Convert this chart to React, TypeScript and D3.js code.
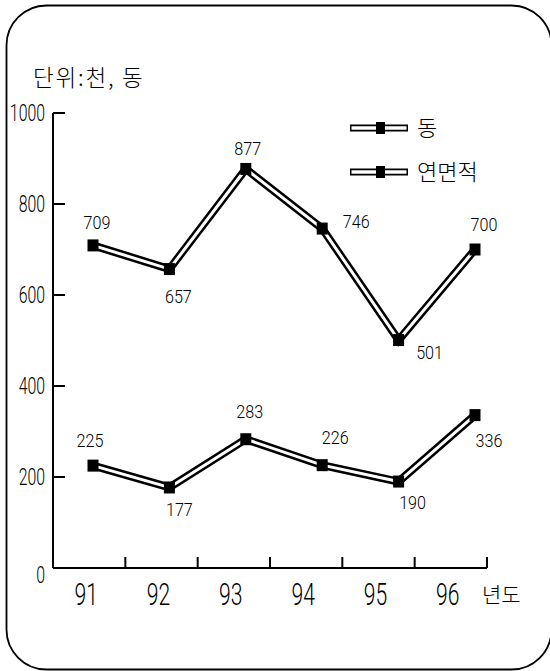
import React from "react";
import * as d3 from "d3";

const years = ["91", "92", "93", "94", "95", "96"];
const areaValues = [709, 657, 877, 746, 501, 700]; // 연면적
const countValues = [225, 177, 283, 226, 190, 336]; // 동
const yTicks = [0, 200, 400, 600, 800, 1000];
const seriesNames = ["동", "연면적"];
const unitLabel = "단위:천, 동";
const xAxisTitle = "년도";

// label offsets relative to each point (dx, dy of label centre)
const areaLabelOffsets = [[4, -23], [9, 27], [2, -21], [34, -8], [31, 12], [9, -26]];
const countLabelOffsets = [[-3, -26], [10, 22], [4, -28], [13, -28], [14, 20], [14, 25]];

const W = 550;
const H = 671;
const KR = "'Noto Sans CJK KR', 'Noto Sans', sans-serif";
const NUM = "Roboto, 'Liberation Sans', Arial, sans-serif";

export default function App() {
  const yScale = d3.scaleLinear().domain([0, 1000]).range([568, 113]);
  const xBand = d3.scaleBand().domain(years).range([53, 487]);
  const xPoint = d3.scalePoint().domain(years).range([93, 475]);

  const line = d3
    .line<number>()
    .x((_, i) => xPoint(years[i]) as number)
    .y((d) => yScale(d));

  const series = [
    { name: seriesNames[1], values: areaValues, offsets: areaLabelOffsets },
    { name: seriesNames[0], values: countValues, offsets: countLabelOffsets },
  ];

  const axisLeft = xBand.range()[0];
  const axisRight = xBand.range()[1];
  const axisBottom = yScale(0);
  const axisTop = yScale(1000);

  return (
    <svg
      width={W}
      height={H}
      viewBox={`0 0 ${W} ${H}`}
      style={{ position: "fixed", left: 0, top: 0, background: "#fff" }}
    >
      <rect x={0} y={0} width={W} height={H} fill="#fff" />
      {/* frame */}
      <rect x={6.5} y={5.5} width={545} height={664} rx={40} ry={40} fill="none" stroke="#000" strokeWidth={1.8} />

      {/* unit label */}
      <text x={33} y={86} fontFamily={KR} fontWeight={300} fontSize={22.5} letterSpacing={1.8} fill="#000">
        {unitLabel}
      </text>

      {/* y axis */}
      <line x1={axisLeft} x2={axisLeft} y1={axisTop} y2={axisBottom} stroke="#000" strokeWidth={2} />
      {yTicks.map((t) => (
        <g key={t}>
          {t > 0 && (
            <line x1={axisLeft} x2={axisLeft + 12} y1={yScale(t)} y2={yScale(t)} stroke="#000" strokeWidth={2} />
          )}
          <text
            transform={`translate(${45},${yScale(t) + (t === 0 ? 15 : 8)}) scale(0.66,1)`}
            textAnchor="end"
            fontFamily={NUM}
            fontWeight={300}
            fontSize={24}
            fill="#000"
          >
            {t}
          </text>
        </g>
      ))}

      {/* x axis */}
      <line x1={axisLeft} x2={axisRight} y1={axisBottom} y2={axisBottom} stroke="#000" strokeWidth={2} />
      {years.map((yr) => {
        const bx = (xBand(yr) as number) + xBand.bandwidth();
        const cx = (xBand(yr) as number) + xBand.bandwidth() / 2 - 3;
        return (
          <g key={yr}>
            <line x1={bx} x2={bx} y1={axisBottom} y2={axisBottom - 11} stroke="#000" strokeWidth={2} />
            <text
              transform={`translate(${cx},${605}) scale(0.66,1)`}
              textAnchor="middle"
              fontFamily={NUM}
              fontWeight={300}
              fontSize={32}
              fill="#000"
            >
              {yr}
            </text>
          </g>
        );
      })}
      <text x={482} y={602} fontFamily={KR} fontWeight={300} fontSize={21} fill="#000">
        {xAxisTitle}
      </text>

      {/* series */}
      {series.map((s) => (
        <g key={s.name}>
          <path d={line(s.values) || ""} fill="none" stroke="#000" strokeWidth={8} strokeLinejoin="miter" />
          <path d={line(s.values) || ""} fill="none" stroke="#fff" strokeWidth={3} strokeLinejoin="miter" />
          {s.values.map((v, i) => {
            const px = xPoint(years[i]) as number;
            const py = yScale(v);
            return <rect key={i} x={px - 5.5} y={py - 6} width={11} height={12} fill="#000" />;
          })}
          {s.values.map((v, i) => {
            const px = xPoint(years[i]) as number;
            const py = yScale(v);
            const [dx, dy] = s.offsets[i];
            return (
              <text
                key={"l" + i}
                transform={`translate(${px + dx},${py + dy + 7}) scale(0.85,1)`}
                textAnchor="middle"
                fontFamily={NUM}
                fontWeight={300}
                fontSize={19}
                fill="#000"
              >
                {v}
              </text>
            );
          })}
        </g>
      ))}

      {/* legend */}
      {seriesNames.map((n, i) => {
        const ly = 128 + i * 44;
        return (
          <g key={n}>
            <line x1={350} x2={408} y1={ly} y2={ly} stroke="#000" strokeWidth={7} />
            <line x1={351.5} x2={406.5} y1={ly} y2={ly} stroke="#fff" strokeWidth={3.5} />
            <rect x={376} y={ly - 6} width={9} height={12} fill="#000" />
            <text x={417} y={ly + 8} fontFamily={KR} fontWeight={300} fontSize={22} fill="#000">
              {n}
            </text>
          </g>
        );
      })}
    </svg>
  );
}
